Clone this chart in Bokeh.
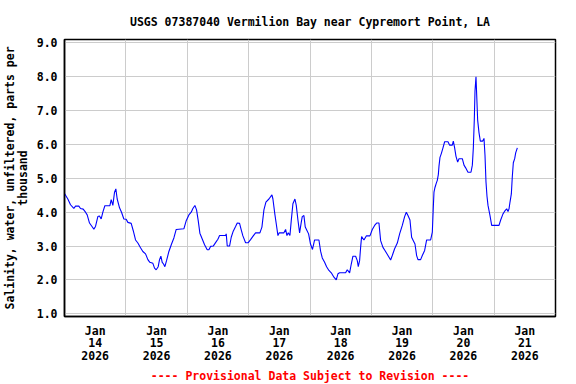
import pandas as pd
from bokeh.plotting import figure
from bokeh.models import FixedTicker, DatetimeTickFormatter, Range1d, Title, PrintfTickFormatter
from bokeh.embed import file_html
from bokeh.resources import INLINE

# ---- data -----------------------------------------------------------------
start = pd.Timestamp("2026-01-14 00:00")
hours = [0.0, 1.30, 2.35, 3.65, 4.30, 5.61, 6.26, 7.30, 8.22, 8.87, 9.78, 10.82, 11.48,
         12.13, 13.04, 13.69, 14.34, 15.0, 15.78, 17.73, 18.26, 18.91, 19.56, 20.08,
         20.60, 21.52, 22.30, 23.21, 24.12, 24.78, 26.08, 26.86, 27.78, 28.69, 29.73,
         30.64, 31.69, 32.60, 33.38, 34.56, 35.21, 35.86, 36.64, 37.16, 37.69, 38.21,
         38.73, 39.25, 39.90, 40.82, 41.86, 42.77, 43.68, 46.68, 47.60, 48.64, 49.55,
         50.20, 50.99, 51.64, 52.29, 52.94, 53.86, 54.77, 55.81, 56.46, 57.12, 58.16,
         59.07, 59.98, 60.64, 62.98, 63.24, 63.64, 64.55, 65.20, 65.98, 66.90, 67.55,
         68.46, 69.11, 69.76, 70.81, 71.85, 72.76, 73.81, 74.72, 76.41, 77.20, 77.98,
         78.76, 79.94, 81.11, 81.50, 82.28, 82.80, 83.46, 83.98, 85.80, 86.46, 86.98,
         87.50, 88.15, 88.67, 89.32, 90.11, 90.63, 91.28, 91.93, 92.58, 92.97, 93.62,
         94.15, 94.80, 95.45, 96.20, 96.97, 97.80, 99.23, 99.49, 100.14, 100.80, 101.71,
         102.49, 103.40, 104.32, 105.36, 106.27, 106.92, 107.58, 109.92, 110.58, 111.49,
         112.14, 112.79, 113.84, 114.49, 114.88, 115.40, 115.79, 116.18, 117.10, 118.01,
         119.44, 120.36, 121.27, 122.05, 122.96, 123.62, 124.53, 125.31, 126.49, 127.53,
         128.18, 129.09, 130.14, 131.05, 132.09, 133.00, 133.66, 134.31, 135.09, 135.74,
         136.40, 137.05, 137.70, 138.22, 139.26, 139.92, 140.83, 141.61, 143.18, 143.83,
         144.22, 144.48, 144.87, 145.39, 145.78, 146.18, 146.44, 146.83, 147.35, 148.00,
         148.65, 149.96, 150.61, 151.65, 152.04, 152.56, 153.09, 153.74, 154.26, 155.56,
         156.22, 156.87, 157.78, 158.95, 159.48, 159.87, 160.26, 160.52, 160.91, 161.17,
         161.56, 162.08, 162.61, 163.52, 164.04, 164.43, 164.82, 165.21, 165.61, 166.39,
         167.04, 169.91, 170.56, 171.47, 172.13, 172.91, 173.43, 173.82, 174.21, 174.73,
         175.12, 175.51, 176.04, 176.43, 177.08]
salinity = [4.55, 4.39, 4.22, 4.11, 4.18, 4.18, 4.11, 4.09, 4.0, 3.92, 3.68, 3.57, 3.5,
            3.58, 3.87, 3.89, 3.8, 4.0, 4.19, 4.19, 4.37, 4.2, 4.59, 4.69,
            4.39, 4.13, 4.0, 3.8, 3.79, 3.7, 3.67, 3.46, 3.18, 3.09, 2.95,
            2.84, 2.77, 2.6, 2.52, 2.49, 2.35, 2.3, 2.39, 2.6, 2.7, 2.52,
            2.47, 2.39, 2.57, 2.84, 3.06, 3.24, 3.49, 3.51, 3.75, 3.92, 4.0,
            4.11, 4.2, 4.07, 3.75, 3.38, 3.21, 3.04, 2.89, 2.89, 2.99, 3.0,
            3.1, 3.2, 3.31, 3.31, 3.36, 3.0, 3.0, 3.26, 3.44, 3.58, 3.68,
            3.67, 3.48, 3.3, 3.1, 3.1, 3.19, 3.3, 3.39, 3.39, 3.56, 4.07,
            4.3, 4.39, 4.51, 4.39, 3.93, 3.66, 3.31, 3.39, 3.39, 3.49, 3.31,
            3.39, 3.31, 3.75, 4.25, 4.39, 4.2, 3.77, 3.39, 3.7, 3.87, 3.9,
            3.56, 3.46, 3.36, 3.06, 2.9, 3.18, 3.18, 3.18, 2.85, 2.65, 2.52,
            2.39, 2.28, 2.21, 2.08, 2.0, 2.18, 2.21, 2.21, 2.3, 2.21,
            2.47, 2.7, 2.7, 2.57, 2.39, 2.57, 2.96, 3.28, 3.18, 3.3,
            3.3, 3.49, 3.61, 3.68, 3.68, 3.16, 2.96, 2.87, 2.72, 2.59,
            2.72, 2.92, 3.09, 3.36, 3.61, 3.87, 4.0, 3.9, 3.77, 3.26,
            3.16, 3.06, 2.72, 2.6, 2.6, 2.72, 2.87, 3.18, 3.18, 3.41,
            4.15, 4.59, 4.73, 4.86, 4.94, 5.11, 5.36, 5.62, 5.73, 5.9,
            6.08, 6.08, 5.98, 5.98, 6.1, 5.9, 5.65, 5.48, 5.58, 5.58,
            5.39, 5.31, 5.18, 5.18, 5.39, 5.9, 6.76, 7.58, 8.0, 7.49,
            6.72, 6.35, 6.1, 6.1, 6.18, 5.68, 4.89, 4.47, 4.2, 3.9,
            3.61, 3.61, 3.77, 3.95, 4.03, 4.1, 4.02, 4.1, 4.3, 4.54,
            5.06, 5.46, 5.58, 5.75, 5.9]
label_days = ["2026-01-14", "2026-01-15", "2026-01-16", "2026-01-17",
              "2026-01-18", "2026-01-19", "2026-01-20", "2026-01-21"]
y_ticks = [1, 2, 3, 4, 5, 6, 7, 8, 9]

title_text = "USGS 07387040 Vermilion Bay near Cypremort Point, LA"
y_label = "Salinity, water, unfiltered, parts per\nthousand"
footer_text = "---- Provisional Data Subject to Revision ----"

# ---- derived ----------------------------------------------------------------
times = start + pd.to_timedelta(hours, unit="h")
def ms(ts):
    return ts.value // 10**6
label_ticks = [ms(pd.Timestamp(d) + pd.Timedelta(hours=12)) for d in label_days]
grid_ticks = [ms(pd.Timestamp(d) + pd.Timedelta(days=1)) for d in label_days[:-1]]

FONT = "DejaVu Sans Mono"

p = figure(width=576, height=384, x_axis_type="datetime",
           output_backend="svg", toolbar_location=None,
           x_range=Range1d(pd.Timestamp("2026-01-14"), pd.Timestamp("2026-01-22")),
           y_range=Range1d(0.92, 9.1),
           min_border_left=64, min_border_right=21, min_border_top=39, min_border_bottom=68)

p.title.text = title_text
p.title.align = "center"
p.title.text_font = FONT
p.title.text_font_size = "11.5px"
p.title.text_font_style = "bold"
p.title.text_color = "black"
p.title.standoff = 21

p.line(times, salinity, line_color="#0000ff", line_width=1.1)

fmt = "%b\n%d\n%Y"
p.xaxis.ticker = FixedTicker(ticks=label_ticks)
p.xaxis.formatter = DatetimeTickFormatter(days=fmt, months=fmt, hours=fmt, years=fmt,
                                          minutes=fmt, hourmin=fmt, seconds=fmt,
                                          minsec=fmt, milliseconds=fmt, microseconds=fmt,
                                          context=None)
p.xgrid.ticker = FixedTicker(ticks=grid_ticks)
p.yaxis.ticker = FixedTicker(ticks=y_ticks)
p.yaxis.formatter = PrintfTickFormatter(format="%.1f")
p.yaxis.axis_label = y_label

for ax in (p.xaxis[0], p.yaxis[0]):
    ax.major_label_text_font = FONT
    ax.major_label_text_font_size = "11.5px"
    ax.major_label_text_font_style = "bold"
    ax.major_label_text_color = "black"
    ax.major_label_text_line_height = 0.9
    ax.axis_label_text_font = FONT
    ax.axis_label_text_font_size = "11.5px"
    ax.axis_label_text_font_style = "bold"
    ax.axis_label_text_color = "black"
    ax.axis_label_text_line_height = 0.9
    ax.major_tick_out = 0
    ax.major_tick_in = 0
    ax.minor_tick_out = 0
    ax.minor_tick_in = 0
    ax.axis_line_color = "black"
    ax.axis_line_width = 1.5
p.xaxis.major_label_standoff = 7
p.yaxis.major_label_standoff = 7
p.yaxis.axis_label_standoff = 4

p.grid.grid_line_color = "#cccccc"
p.grid.grid_line_width = 1
p.outline_line_color = "black"
p.outline_line_width = 1.5

p.add_layout(Title(text=footer_text, align="center", text_color="#ff0000",
                   text_font=FONT, text_font_size="11.5px", text_font_style="bold",
                   standoff=2),
             "below")

open("out.html", "w").write(file_html(p, INLINE))
